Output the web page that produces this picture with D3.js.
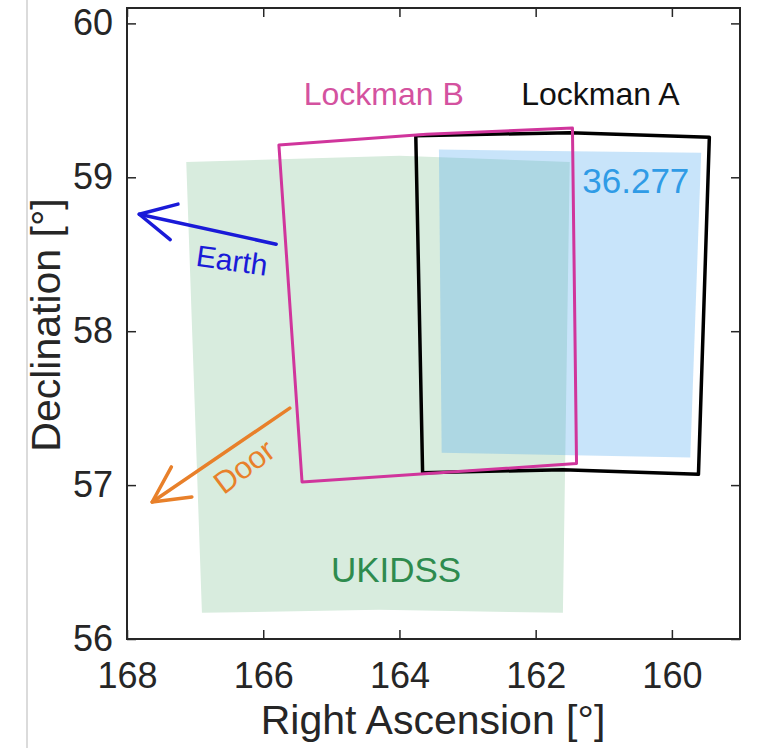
<!DOCTYPE html>
<html>
<head>
<meta charset="utf-8">
<script src="https://cdn.jsdelivr.net/npm/d3@7"></script>
<style>
  html, body { margin: 0; padding: 0; background: #fff; }
  svg { display: block; font-family: "Liberation Sans", Arial, Helvetica, sans-serif; }
</style>
</head>
<body>
<svg id="chart" width="757" height="748"></svg>
<script>
// Survey footprints on the sky, [RA, Dec] in degrees
const ukidss    = [[167.13, 59.10], [164.0, 59.14], [161.50, 59.10], [161.60, 56.17], [164.3, 56.19], [166.90, 56.17]];
const coverage  = [[163.42, 59.18], [159.57, 59.16], [159.73, 57.18], [163.38, 57.21]];
const lockmanA  = [[163.76, 59.27], [161.5, 59.29], [159.45, 59.26], [159.61, 57.07], [161.6, 57.10], [163.66, 57.08]];
const lockmanB  = [[165.77, 59.21], [163.6, 59.28], [161.46, 59.32], [161.40, 57.14], [165.43, 57.02]];

// Direction arrows: [tail, tip]
const earthArrow = [[165.81, 58.565], [167.82, 58.76]];
const doorArrow  = [[165.61, 57.50], [167.63, 56.89]];

// Text annotations placed at [RA, Dec]
const labels = [
  { text: "Lockman B", ra: 164.23, dec: 59.54, rot: 0,   color: "#d4529f", size: 32 },
  { text: "Lockman A", ra: 161.05, dec: 59.54, rot: 0,   color: "#111111", size: 32 },
  { text: "36.277",    ra: 160.53, dec: 58.98, rot: 0,   color: "#2f9be6", size: 35 },
  { text: "UKIDSS",    ra: 164.05, dec: 56.45, rot: 0,   color: "#2e8b4e", size: 35 },
  { text: "Earth",     ra: 166.46, dec: 58.46, rot: 8,   color: "#1a1ad8", size: 30 },
  { text: "Door",      ra: 166.28, dec: 57.12, rot: -37, color: "#e8802a", size: 31 }
];

const xTicks = [168, 166, 164, 162, 160];
const yTicks = [56, 57, 58, 59, 60];
const xDomain = [168, 159];
const yDomain = [56, 60.1];

const svg = d3.select("#chart");
const mLeft = 127, mRight = 740, mTop = 8, mBottom = 639;
const x = d3.scaleLinear().domain(xDomain).range([mLeft, mRight]);
const y = d3.scaleLinear().domain(yDomain).range([mBottom, mTop]);

// thin grey rule at the left edge of the figure
svg.append("line").attr("x1", 27).attr("x2", 27).attr("y1", 0).attr("y2", 748)
  .attr("stroke", "#cfcfcf").attr("stroke-width", 1.5);

const line = d3.line().x(d => x(d[0])).y(d => y(d[1]));
const closed = pts => line(pts) + "Z";

const plot = svg.append("g");
plot.append("path").attr("d", closed(ukidss)).attr("fill", "rgb(216,236,222)");
plot.append("path").attr("d", closed(coverage)).attr("fill", "rgb(72,165,238)").attr("fill-opacity", 0.3);
plot.append("path").attr("d", closed(lockmanA)).attr("fill", "none")
  .attr("stroke", "#000").attr("stroke-width", 3.5).attr("stroke-linejoin", "round");
plot.append("path").attr("d", closed(lockmanB)).attr("fill", "none")
  .attr("stroke", "#d0359c").attr("stroke-width", 3).attr("stroke-linejoin", "round");

// arrows with open heads
function arrow(a, color) {
  const x0 = x(a[0][0]), y0 = y(a[0][1]), x1 = x(a[1][0]), y1 = y(a[1][1]);
  const ang = Math.atan2(y0 - y1, x0 - x1);
  const len = 40, half = 27 * Math.PI / 180;
  const p1 = [x1 + len * Math.cos(ang + half), y1 + len * Math.sin(ang + half)];
  const p2 = [x1 + len * Math.cos(ang - half), y1 + len * Math.sin(ang - half)];
  const g = svg.append("g").attr("stroke", color).attr("stroke-width", 3.5)
    .attr("fill", "none").attr("stroke-linecap", "round").attr("stroke-linejoin", "round");
  g.append("line").attr("x1", x0).attr("y1", y0).attr("x2", x1).attr("y2", y1);
  g.append("path").attr("d", `M${p1[0]},${p1[1]}L${x1},${y1}L${p2[0]},${p2[1]}`);
}
arrow(earthArrow, "#1a1ad8");
arrow(doorArrow, "#e8802a");

svg.append("g").selectAll("text").data(labels).join("text")
  .attr("transform", d => `translate(${x(d.ra)},${y(d.dec)}) rotate(${d.rot})`)
  .attr("text-anchor", "middle").attr("dominant-baseline", "central")
  .attr("fill", d => d.color).attr("font-size", d => d.size)
  .text(d => d.text);

// axes box with inward ticks
const axisColor = "#262626";
const tickLen = 9;
const gx = svg.append("g").attr("transform", `translate(0,${mBottom})`)
  .call(d3.axisBottom(x).tickValues(xTicks).tickSize(-tickLen).tickPadding(23).tickFormat(d3.format("d")));
const gxTop = svg.append("g").attr("transform", `translate(0,${mTop})`)
  .call(d3.axisTop(x).tickValues(xTicks).tickSize(-tickLen).tickFormat(""));
const gy = svg.append("g").attr("transform", `translate(${mLeft},0)`)
  .call(d3.axisLeft(y).tickValues(yTicks).tickSize(-tickLen).tickPadding(14).tickFormat(d3.format("d")));
const gyR = svg.append("g").attr("transform", `translate(${mRight},0)`)
  .call(d3.axisRight(y).tickValues(yTicks).tickSize(-tickLen).tickFormat(""));

[gx, gxTop, gy, gyR].forEach(g => {
  g.select(".domain").remove();
  g.selectAll("line").attr("stroke", axisColor).attr("stroke-width", 1.5);
  g.selectAll("text").attr("fill", axisColor).attr("font-size", 36)
    .attr("font-family", "'Liberation Sans', Arial, sans-serif");
});
gx.selectAll("text").attr("dy", "0.71em");

svg.append("rect").attr("x", mLeft).attr("y", mTop).attr("width", mRight - mLeft).attr("height", mBottom - mTop)
  .attr("fill", "none").attr("stroke", axisColor).attr("stroke-width", 2);

svg.append("text").attr("x", 433).attr("y", 734)
  .attr("text-anchor", "middle").attr("fill", axisColor).attr("font-size", 41)
  .text("Right Ascension [°]");
svg.append("text").attr("transform", `translate(60,325) rotate(-90)`)
  .attr("text-anchor", "middle").attr("fill", axisColor).attr("font-size", 41)
  .text("Declination [°]");
</script>
</body>
</html>
